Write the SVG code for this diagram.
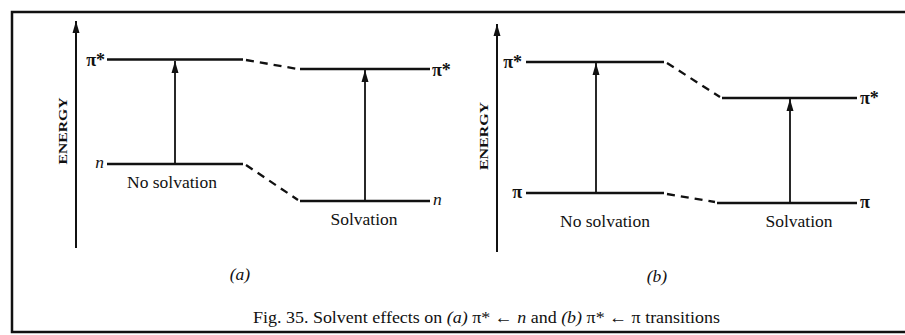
<svg xmlns="http://www.w3.org/2000/svg" width="905" height="335" viewBox="0 0 905 335">
<style>
.frame{stroke:#111;stroke-width:2.5;fill:none}
.axis{stroke:#111;stroke-width:2;fill:none}
.lvl{stroke:#111;stroke-width:2.3;fill:none}
.dash{stroke:#111;stroke-width:2.3;fill:none;stroke-dasharray:8 6}
.tr{stroke:#111;stroke-width:1.8;fill:none}
text{font-family:"Liberation Serif","Times New Roman",serif;fill:#111}
.lab{font-size:17.5px}
.sym{font-size:18px;font-weight:bold}
.it{font-style:italic}
.en{font-size:13px;font-weight:bold}
.cap{font-size:17px}
</style>
<defs>
<marker id="up" markerUnits="userSpaceOnUse" markerWidth="10" markerHeight="14" refX="5" refY="1" orient="0" viewBox="0 0 10 14">
<path d="M5,1 L8.5,13 L1.5,13 Z" fill="#111"/>
</marker>
</defs>
<g id="frame">
<path class="frame" d="M905,12 H12 V332 H905"/>
</g>
<g id="panel-a">
<g id="axis-a">
<line class="axis" x1="76" y1="248" x2="76" y2="21" marker-end="url(#up)"/>
<text class="en" transform="translate(67,131) rotate(-90)" text-anchor="middle" textLength="67" lengthAdjust="spacingAndGlyphs">ENERGY</text>
</g>
<g id="a-pistar-left"><line class="lvl" x1="107" y1="59.5" x2="243" y2="59.5"/><text class="sym" x="105" y="66" text-anchor="end">π*</text></g>
<g id="a-n-left"><line class="lvl" x1="107" y1="164" x2="243" y2="164"/><text class="lab it" x="104" y="168" text-anchor="end">n</text></g>
<g id="a-pistar-right"><line class="lvl" x1="300" y1="69" x2="430" y2="69"/><text class="sym" x="432" y="76">π*</text></g>
<g id="a-n-right"><line class="lvl" x1="300" y1="201" x2="430" y2="201"/><text class="lab it" x="433" y="205">n</text></g>
<text class="lab" x="172" y="188" text-anchor="middle">No solvation</text>
<text class="lab" x="364" y="225" text-anchor="middle">Solvation</text>
<text class="lab it" x="240" y="280" text-anchor="middle">(a)</text>
</g>
<g id="panel-b">
<g id="axis-b">
<line class="axis" x1="497" y1="252" x2="497" y2="24" marker-end="url(#up)"/>
<text class="en" transform="translate(488,136) rotate(-90)" text-anchor="middle" textLength="68" lengthAdjust="spacingAndGlyphs">ENERGY</text>
</g>
<g id="b-pistar-left"><line class="lvl" x1="526" y1="62" x2="664" y2="62"/><text class="sym" x="522" y="68" text-anchor="end">π*</text></g>
<g id="b-pi-left"><line class="lvl" x1="526" y1="193" x2="664" y2="193"/><text class="sym" x="522" y="198" text-anchor="end">π</text></g>
<g id="b-pistar-right"><line class="lvl" x1="722" y1="98" x2="857" y2="98"/><text class="sym" x="860" y="104">π*</text></g>
<g id="b-pi-right"><line class="lvl" x1="717" y1="203" x2="857" y2="203"/><text class="sym" x="860" y="208">π</text></g>
<text class="lab" x="605" y="227" text-anchor="middle">No solvation</text>
<text class="lab" x="799" y="227" text-anchor="middle">Solvation</text>
<text class="lab it" x="657" y="282" text-anchor="middle">(b)</text>
</g>
<g id="connectors">
<line class="dash" x1="246" y1="60" x2="298" y2="69"/>
<line class="dash" x1="246" y1="165" x2="298" y2="200"/>
<line class="tr" x1="175" y1="164" x2="175" y2="61" marker-end="url(#up)"/>
<line class="tr" x1="365" y1="201" x2="365" y2="70" marker-end="url(#up)"/>
<line class="dash" x1="667" y1="63" x2="720" y2="97"/>
<line class="dash" x1="667" y1="194" x2="715" y2="202"/>
<line class="tr" x1="596" y1="193" x2="596" y2="63" marker-end="url(#up)"/>
<line class="tr" x1="790" y1="203" x2="790" y2="99" marker-end="url(#up)"/>
</g>
<g id="caption">
<text class="cap" x="253" y="323" textLength="467" lengthAdjust="spacingAndGlyphs">Fig. 35. Solvent effects on <tspan class="it">(a)</tspan> π* ← <tspan class="it">n</tspan> and <tspan class="it">(b)</tspan> π* ← π transitions</text>
</g>
</svg>
